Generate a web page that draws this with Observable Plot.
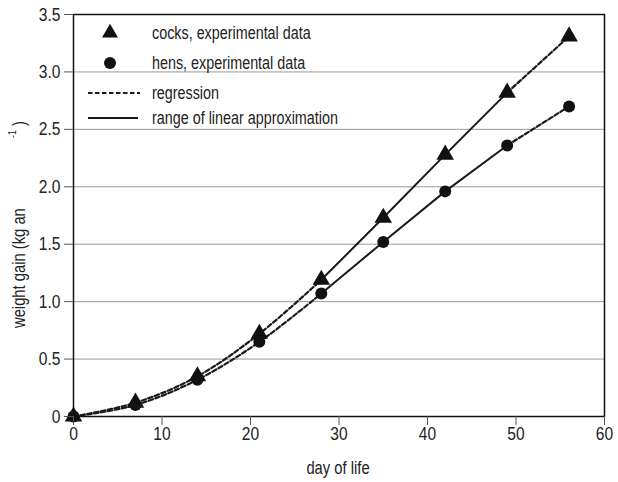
<!DOCTYPE html>
<html>
<head>
<meta charset="utf-8">
<script src="https://cdn.jsdelivr.net/npm/d3@7"></script>
<script src="https://cdn.jsdelivr.net/npm/@observablehq/plot@0.6"></script>
<style>
  html, body { margin: 0; padding: 0; background: #fff; }
  #wrap { position: relative; width: 618px; height: 482px; }
</style>
</head>
<body>
<div id="wrap"></div>
<script>
const days  = [0, 7, 14, 21, 28, 35, 42, 49, 56];
const cocks = [0, 0.12, 0.35, 0.72, 1.19, 1.73, 2.28, 2.82, 3.31];
const hens  = [0, 0.10, 0.32, 0.65, 1.07, 1.52, 1.96, 2.36, 2.70];
const xTicks = [0, 10, 20, 30, 40, 50, 60];
const yTicks = [0, 0.5, 1.0, 1.5, 2.0, 2.5, 3.0, 3.5];
const legendLabels = ["cocks, experimental data", "hens, experimental data", "regression", "range of linear approximation"];

const rows = [];
days.forEach((d, i) => {
  rows.push({day: d, gain: cocks[i], sex: "cocks"});
  rows.push({day: d, gain: hens[i], sex: "hens"});
});
const early = rows.filter(r => r.day <= 28);
const mid = rows.filter(r => r.day >= 28 && r.day <= 49);
const late = rows.filter(r => r.day >= 49);

const font = '"Liberation Sans", Arial, sans-serif';
const yFmt = d => d === 0 ? "0" : d3.format(".1f")(d);
const dash = "4.5,2.5";

const chart = Plot.plot({
  width: 618,
  height: 482,
  marginLeft: 73,
  marginRight: 14,
  marginTop: 14,
  marginBottom: 66,
  style: {fontFamily: font, fontSize: "19px", color: "#222", background: "#fff"},
  x: {domain: [0, 60], label: null},
  y: {domain: [0, 3.5], label: null},
  marks: [
    Plot.gridY(yTicks, {stroke: "#999", strokeOpacity: 1, strokeWidth: 1}),
    Plot.line(early, {x: "day", y: "gain", z: "sex", curve: "catmull-rom", stroke: "#1a1a1a", strokeWidth: 2.2, strokeDasharray: dash}),
    Plot.line(mid, {x: "day", y: "gain", z: "sex", stroke: "#1a1a1a", strokeWidth: 2}),
    Plot.line(late, {x: "day", y: "gain", z: "sex", curve: "catmull-rom", stroke: "#1a1a1a", strokeWidth: 2.2, strokeDasharray: dash}),
    Plot.dot(rows.filter(r => r.sex === "cocks"), {x: "day", y: "gain", symbol: "triangle", r: 6.5, fill: "#111", stroke: "none"}),
    Plot.dot(rows.filter(r => r.sex === "hens"), {x: "day", y: "gain", symbol: "circle", r: 6, fill: "#111", stroke: "none"}),
    Plot.frame({stroke: "#111", strokeWidth: 1.5}),
    Plot.axisX({ticks: xTicks, tickSize: 9, tickPadding: 1, label: null, stroke: "#555"}),
    Plot.axisY({ticks: yTicks, tickSize: 9, tickPadding: 4, label: null, stroke: "#555", tickFormat: yFmt})
  ]
});

const wrap = document.getElementById("wrap");
wrap.appendChild(chart);

const svg = d3.select(chart);
// axis titles
svg.append("text")
  .attr("x", 338).attr("y", 474)
  .attr("text-anchor", "middle")
  .attr("font-size", 18).attr("fill", "#222")
  .text("day of life");

svg.append("text")
  .attr("transform", "translate(25,328) rotate(-90)")
  .attr("text-anchor", "start")
  .attr("font-size", 18).attr("fill", "#222")
  .text("weight gain (kg an");
svg.append("text")
  .attr("transform", "translate(16,138) rotate(-90)")
  .attr("text-anchor", "start")
  .attr("font-size", 11).attr("fill", "#222")
  .text("-1");
svg.append("text")
  .attr("transform", "translate(25,126) rotate(-90)")
  .attr("text-anchor", "start")
  .attr("font-size", 18).attr("fill", "#222")
  .text(")");

// legend
const lg = svg.append("g").attr("font-size", 17.5).attr("fill", "#222").attr("text-anchor", "start");
const lx = 110, tx = 152, ys = [33, 63, 93, 118];
lg.append("path").attr("d", d3.symbol(d3.symbolTriangle, 110)()).attr("transform", `translate(${lx},${ys[0]})`).attr("fill", "#111");
lg.append("circle").attr("cx", lx).attr("cy", ys[1]).attr("r", 6).attr("fill", "#111");
lg.append("line").attr("x1", 88).attr("x2", 140).attr("y1", ys[2]).attr("y2", ys[2]).attr("stroke", "#1a1a1a").attr("stroke-width", 2).attr("stroke-dasharray", dash);
lg.append("line").attr("x1", 88).attr("x2", 138).attr("y1", ys[3]).attr("y2", ys[3]).attr("stroke", "#1a1a1a").attr("stroke-width", 2);
legendLabels.forEach((t, i) => {
  lg.append("text").attr("x", tx).attr("y", ys[i]).attr("dy", "0.35em").text(t);
});

// emulate a narrow face (Arial Narrow look) by condensing glyphs horizontally
svg.selectAll("text").each(function() {
  const len = this.getComputedTextLength();
  if (len > 0) {
    this.setAttribute("textLength", (len * 0.82).toFixed(1));
    this.setAttribute("lengthAdjust", "spacingAndGlyphs");
  }
});
</script>
</body>
</html>
